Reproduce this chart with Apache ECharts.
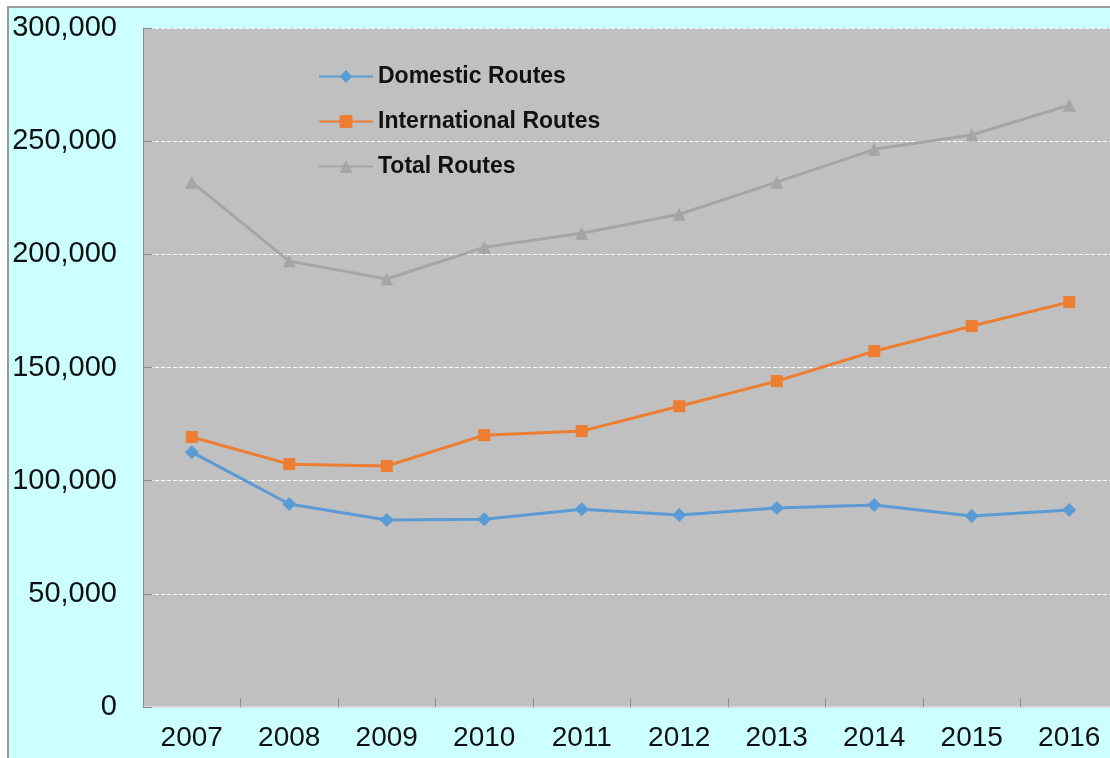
<!DOCTYPE html>
<html>
<head>
<meta charset="utf-8">
<script src="https://cdn.jsdelivr.net/npm/echarts@6/dist/echarts.min.js"></script>
<style>
html,body{margin:0;padding:0;background:#ffffff;width:1110px;height:758px;overflow:hidden;}
#frame{position:absolute;left:7px;top:6px;width:1110px;height:760px;background:#ccffff;border-top:2px solid #9a9a9a;border-left:2px solid #9a9a9a;box-sizing:border-box;}
#chart{position:absolute;left:0;top:0;width:1110px;height:758px;}
</style>
</head>
<body>
<div id="frame"></div>
<div id="chart"></div>
<script>
const years = ['2007','2008','2009','2010','2011','2012','2013','2014','2015','2016'];
const domestic = [112600, 89700, 82600, 83000, 87400, 84800, 87900, 89200, 84400, 87000];
const international = [119300, 107300, 106500, 120100, 121900, 132900, 144000, 157200, 168300, 178900];
const total = [231900, 197000, 189100, 203100, 209300, 217700, 231900, 246400, 252700, 265900];
const seriesNames = ['Domestic Routes', 'International Routes', 'Total Routes'];

const chart = echarts.init(document.getElementById('chart'), null, {renderer: 'canvas'});
const font = '"Liberation Sans", Arial, sans-serif';
chart.setOption({
  backgroundColor: 'transparent',
  animation: false,
  grid: {
    left: 143, top: 28, bottom: 51, width: 975,
    outerBoundsMode: 'none', containLabel: false,
    show: true, backgroundColor: '#c0c0c0', borderWidth: 0
  },
  legend: {
    orient: 'vertical',
    left: 313, top: 60,
    itemWidth: 54, itemHeight: 16, itemGap: 22,
    data: seriesNames,
    textStyle: {fontFamily: font, fontSize: 23, fontWeight: 'bold', color: '#111'}
  },
  xAxis: {
    type: 'category',
    data: years,
    boundaryGap: true,
    axisLine: {show: true, lineStyle: {color: '#d9d9d9', width: 2}},
    axisTick: {show: true, inside: true, length: 9, lineStyle: {color: '#8c8c8c', width: 1}},
    axisLabel: {fontFamily: font, fontSize: 28, color: '#111', margin: 17}
  },
  yAxis: {
    type: 'value',
    min: 0, max: 300000, interval: 50000,
    axisLine: {show: true, lineStyle: {color: '#8c8c8c', width: 1}},
    axisTick: {show: true, inside: true, length: 9, lineStyle: {color: '#8c8c8c'}},
    splitLine: {show: true, lineStyle: {color: '#ffffff', type: [4, 2], width: 1}},
    axisLabel: {
      fontFamily: font, fontSize: 29, color: '#111', margin: 26,
      formatter: v => v.toLocaleString('en-US')
    }
  },
  series: [
    {
      name: seriesNames[0], type: 'line', data: domestic,
      symbol: 'diamond', symbolSize: 14,
      lineStyle: {color: '#5b9bd5', width: 3},
      itemStyle: {color: '#5b9bd5'}
    },
    {
      name: seriesNames[1], type: 'line', data: international,
      symbol: 'rect', symbolSize: 12,
      lineStyle: {color: '#ed7d31', width: 3},
      itemStyle: {color: '#ed7d31'}
    },
    {
      name: seriesNames[2], type: 'line', data: total,
      symbol: 'triangle', symbolSize: 13,
      lineStyle: {color: '#a5a5a5', width: 3},
      itemStyle: {color: '#a5a5a5'}
    }
  ]
});
</script>
</body>
</html>
